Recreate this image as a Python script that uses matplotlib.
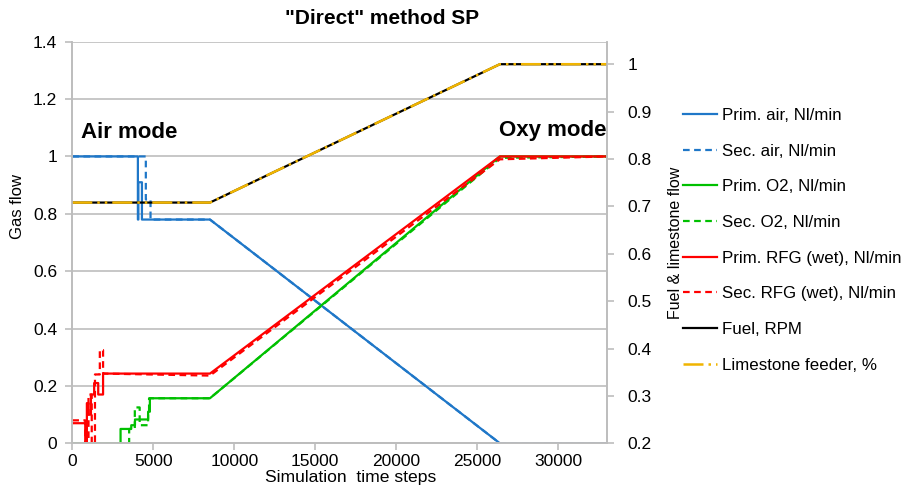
import numpy as np
import matplotlib.pyplot as plt
from matplotlib.lines import Line2D

plt.rcParams['font.family'] = ['Liberation Sans', 'DejaVu Sans']

# step data, simulation time step vs flow
prim_air_x = [0, 4050, 4050, 4080, 4080, 4300, 4300, 8500, 26400, 33000]
prim_air_y = [1.0, 1.0, 0.78, 0.78, 0.91, 0.91, 0.78, 0.78, 0.0, 0.0]
sec_air_x = [0, 4540, 4540, 4830, 4830, 8500, 26400, 33000]
sec_air_y = [1.0, 1.0, 0.85, 0.85, 0.78, 0.78, 0.0, 0.0]

prim_o2_x = [0, 2980, 2980, 3640, 3640, 3870, 3870, 4680, 4680, 4790, 4790, 8500, 26400, 33000]
prim_o2_y = [0.0, 0.0, 0.05, 0.05, 0.063, 0.063, 0.083, 0.083, 0.11, 0.11, 0.157, 0.157, 1.0, 1.0]
sec_o2_x = [0, 3510, 3510, 3860, 3860, 4160, 4160, 4680, 4680, 4740, 4740, 8500, 26400, 33000]
sec_o2_y = [0.0, 0.0, 0.05, 0.05, 0.125, 0.125, 0.063, 0.063, 0.1, 0.1, 0.157, 0.157, 0.995, 1.0]

prim_rfg_x = [0, 800, 800, 900, 900, 1000, 1000, 1150, 1150, 1350, 1350, 1600, 1600, 1900, 1900, 8500, 26400, 33000]
prim_rfg_y = [0.07, 0.07, 0.0, 0.0, 0.14, 0.14, 0.10, 0.10, 0.17, 0.17, 0.21, 0.21, 0.17, 0.17, 0.243, 0.243, 1.0, 1.0]
sec_rfg_x = [0, 800, 800, 1000, 1000, 1200, 1200, 1400, 1400, 1700, 1700, 1900, 1900, 8500, 26400, 33000]
sec_rfg_y = [0.08, 0.08, 0.0, 0.0, 0.17, 0.17, 0.0, 0.0, 0.24, 0.24, 0.325, 0.325, 0.243, 0.236, 0.99, 1.0]

fuel_x = [0, 8500, 26400, 33000]
fuel_y = [0.708, 0.708, 1.0, 1.0]
lime_x = [0, 8500, 26400, 33000]
lime_y = [0.708, 0.708, 1.0, 1.0]

fig = plt.figure(figsize=(9.06, 4.86), dpi=100)
ax = fig.add_axes([0.0798, 0.0879, 0.5899, 0.8263])
ax2 = ax.twinx()

blue = '#1f77c8'
green = '#00c000'
red = '#ff0000'
gold = '#f0b400'
dash = (0, (3, 2))
dashdot = (0, (8, 2, 1, 2, 1, 2))

ax.plot(prim_air_x, prim_air_y, color=blue, lw=1.6)
ax.plot(sec_air_x, sec_air_y, color=blue, lw=1.6, ls=dash)
ax.plot(prim_o2_x, prim_o2_y, color=green, lw=1.6)
ax.plot(sec_o2_x, sec_o2_y, color=green, lw=1.6, ls=dash)
ax.plot(prim_rfg_x, prim_rfg_y, color=red, lw=1.6)
ax.plot(sec_rfg_x, sec_rfg_y, color=red, lw=1.6, ls=dash)

ax2.plot(fuel_x, fuel_y, color='black', lw=1.6)
ax2.plot(lime_x, lime_y, color=gold, lw=1.8, ls=dashdot)

ax.set_xlim(0, 33000)
ax.set_ylim(0, 1.4)
ax2.set_ylim(0.2, 1.0475)
ax.set_xticks(np.arange(0, 30001, 5000))
ax.set_yticks(np.arange(0, 1.41, 0.2))
ax.set_yticklabels(['0', '0.2', '0.4', '0.6', '0.8', '1', '1.2', '1.4'])
ax2.set_yticks(np.arange(0.2, 1.01, 0.1))
ax2.set_yticklabels(['0.2', '0.3', '0.4', '0.5', '0.6', '0.7', '0.8', '0.9', '1'])
ax.grid(axis='y', color='#bdbdbd', lw=1.2)
ax.set_axisbelow(True)

for a in (ax, ax2):
    for s in a.spines.values():
        s.set_color('#bdbdbd')
        s.set_linewidth(1.2)
    a.tick_params(colors='#bdbdbd', labelcolor='black', labelsize=12.5, length=5, width=1.2)
ax.tick_params(axis='y', pad=6)
ax2.tick_params(axis='y', pad=10)
ax.tick_params(axis='x', pad=3)
ax.spines['top'].set_visible(False)
ax2.spines['top'].set_visible(False)

ax.set_xlabel('Simulation  time steps', fontsize=12.6)
ax.xaxis.set_label_coords(0.52, -0.066)
ax.set_ylabel('Gas flow', fontsize=12)
ax.yaxis.set_label_coords(-0.088, 0.59)
ax2.set_ylabel('Fuel & limestone flow', fontsize=11.5, labelpad=12)

fig.text(0.4215, 0.962, '"Direct" method SP', ha='center', va='center', fontsize=15,
         fontweight='bold')
ax.text(550, 1.085, 'Air mode', fontsize=16, fontweight='bold', va='center')
ax.text(32980, 1.09, 'Oxy mode', fontsize=16, fontweight='bold', va='center', ha='right')

handles = [
    Line2D([], [], color=blue, lw=1.6),
    Line2D([], [], color=blue, lw=1.6, ls=dash),
    Line2D([], [], color=green, lw=1.6),
    Line2D([], [], color=green, lw=1.6, ls=dash),
    Line2D([], [], color=red, lw=1.6),
    Line2D([], [], color=red, lw=1.6, ls=dash),
    Line2D([], [], color='black', lw=1.6),
    Line2D([], [], color=gold, lw=1.8, ls=dashdot),
]
labels = ['Prim. air, Nl/min', 'Sec. air, Nl/min', 'Prim. O2, Nl/min', 'Sec. O2, Nl/min',
          'Prim. RFG (wet), Nl/min', 'Sec. RFG (wet), Nl/min', 'Fuel, RPM', 'Limestone feeder, %']
fig.legend(handles, labels, loc='upper left', bbox_to_anchor=(0.754, 0.778), frameon=False,
           fontsize=12.2, handlelength=2.0, handletextpad=0.3, labelspacing=1.22,
           borderaxespad=0, borderpad=0)

fig.savefig('out.png', dpi=100)
